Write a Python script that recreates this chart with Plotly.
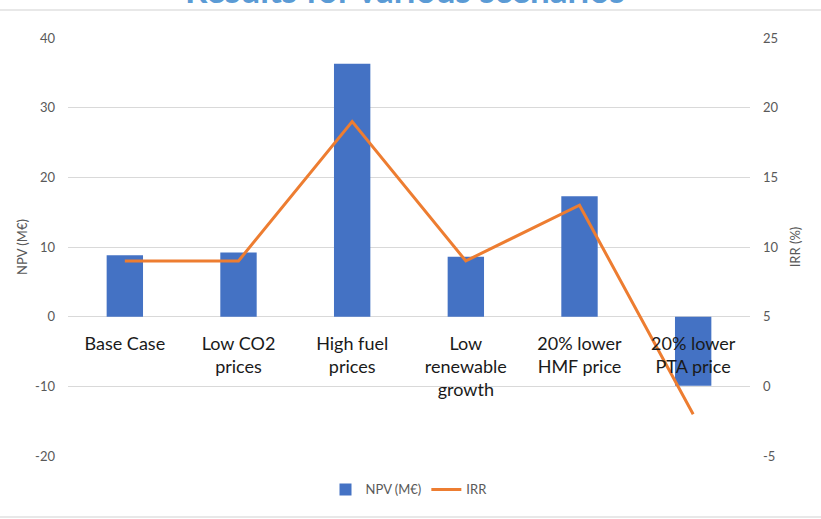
import plotly.graph_objects as go

# Scenario results
scenarios = ["Base Case", "Low CO2<br>prices", "High fuel<br>prices", "Low<br>renewable<br>growth",
             "20% lower<br>HMF price", "20% lower<br>PTA price"]
npv_meur = [8.8, 9.2, 36.3, 8.6, 17.3, -9.9]
irr_pct = [9, 9, 19, 9, 13, -2]

npv_ticks = [-20, -10, 0, 10, 20, 30, 40]
irr_ticks = [-5, 0, 5, 10, 15, 20, 25]

FONT = "Lato, Open Sans, sans-serif"
GRID = "#D9D9D9"
TICK_GRAY = "#595959"

fig = go.Figure()
fig.add_trace(go.Bar(
    x=scenarios, y=npv_meur, name="NPV (M€)",
    marker=dict(color="#4472C4", line=dict(width=0)),
    yaxis="y",
))
fig.add_trace(go.Scatter(
    x=scenarios, y=irr_pct, name="IRR", mode="lines",
    line=dict(color="#ED7D31", width=3),
    yaxis="y2",
))

zero_pos = (0 - (-20)) / (40 - (-20))

fig.update_layout(
    width=821, height=519,
    margin=dict(l=68, r=71, t=38, b=63),
    paper_bgcolor="white", plot_bgcolor="white",
    font=dict(family=FONT, color=TICK_GRAY, size=13),
    bargap=0.68,
    showlegend=True,
    legend=dict(orientation="h", x=0.5, xanchor="center", y=-0.08, yanchor="middle",
                font=dict(size=13, color=TICK_GRAY), itemwidth=30, traceorder="normal"),
    xaxis=dict(
        anchor="free", position=zero_pos,
        showline=False, showgrid=False, zeroline=False,
        ticks="", tickfont=dict(size=18, color="#1a1a1a", family=FONT),
        ticklabelstandoff=14, layer="above traces",
    ),
    yaxis=dict(
        range=[-20, 40], tickvals=npv_ticks, ticktext=[str(v) for v in npv_ticks],
        showgrid=True, gridcolor=GRID, gridwidth=1,
        zeroline=True, zerolinecolor=GRID, zerolinewidth=1, showline=False,
        ticklabelstandoff=12, tickfont=dict(size=13, color=TICK_GRAY),
        title=dict(text="NPV (M€)", font=dict(size=13, color=TICK_GRAY), standoff=4),
    ),
    yaxis2=dict(
        range=[-5, 25], tickvals=irr_ticks, ticktext=[str(v) for v in irr_ticks],
        overlaying="y", side="right",
        showgrid=False, zeroline=False, showline=False,
        ticklabelstandoff=12, tickfont=dict(size=13, color=TICK_GRAY),
        title=dict(text="IRR (%)", font=dict(size=13, color=TICK_GRAY), standoff=13),
    ),
)

# Chart title (sits at the top edge of the page)
fig.add_annotation(
    text="<b>Results for various scenarios</b>", xref="paper", yref="paper",
    x=0.494, y=1.0, yshift=26, yanchor="bottom", showarrow=False,
    font=dict(size=35, color="#5B9BD5", family=FONT),
)
# Thin frame lines above and below the chart body
for yp in [10, 517]:
    fig.add_shape(type="line", xref="paper", yref="paper",
                  x0=-68 / 682, x1=(821 - 68) / 682,
                  y0=(456 - yp) / 418, y1=(456 - yp) / 418,
                  line=dict(color="#E8E8E8", width=2))

fig.write_html("out.html")
